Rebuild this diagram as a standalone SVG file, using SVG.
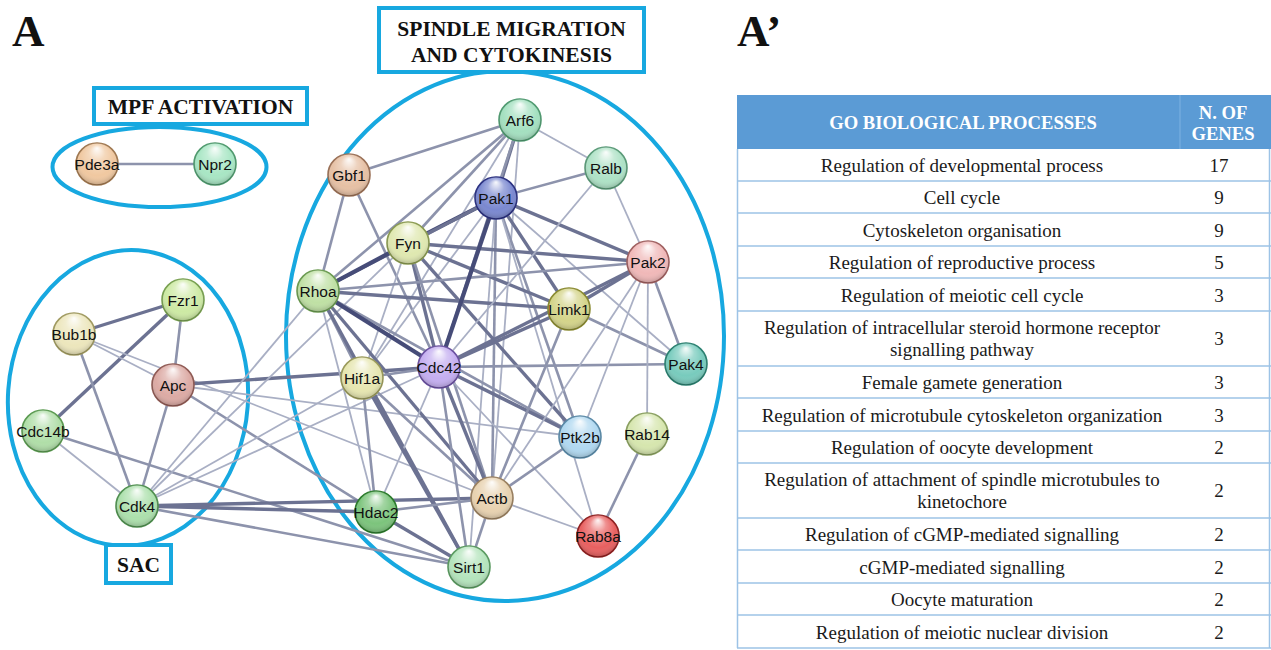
<svg xmlns="http://www.w3.org/2000/svg" width="1271" height="650" viewBox="0 0 1271 650">
<defs>
<radialGradient id="gloss" cx="50%" cy="45%" r="55%" fx="50%" fy="12%">
<stop offset="0" stop-color="#ffffff" stop-opacity="0.95"/>
<stop offset="0.35" stop-color="#ffffff" stop-opacity="0.3"/>
<stop offset="0.75" stop-color="#ffffff" stop-opacity="0"/>
<stop offset="1" stop-color="#000000" stop-opacity="0.2"/>
</radialGradient>
<style>
.bg{fill:#ffffff}
.grp{fill:none;stroke:#17a8e0;stroke-width:4}
.box{fill:#ffffff;stroke:#17a8e0;stroke-width:4}
.btitle{font-family:"Liberation Serif",serif;font-weight:bold;font-size:21.5px;fill:#111;text-anchor:middle}
.panel{font-family:"Liberation Serif",serif;font-weight:bold;font-size:45px;fill:#111}
.node circle.b{stroke-width:1.6}
.node circle.g{fill:url(#gloss)}
.node text{font-family:"Liberation Sans",Arial,sans-serif;font-size:15.5px;fill:#111;text-anchor:middle}
.t{stroke:#a9afc4;stroke-width:1.8}
.m{stroke:#8d93ac;stroke-width:2.6}
.k{stroke:#6c7292;stroke-width:3.4}
.d{stroke:#464c78;stroke-width:4.2}
.hdr{fill:#5b9bd5}
.htxt{font-family:"Liberation Serif",serif;font-weight:bold;font-size:18.6px;fill:#ffffff;text-anchor:middle}
.rtxt{font-family:"Liberation Serif",serif;font-size:19px;fill:#1a1a1a;text-anchor:middle}
.rl{stroke:#9dc3e6;stroke-width:1.5}
</style>
</defs>
<rect class="bg" x="0" y="0" width="1271" height="650"/>

<text class="panel" x="12" y="46">A</text>
<text class="panel" x="737" y="46">A’</text>

<g id="groups">
<ellipse class="grp" cx="159.5" cy="167" rx="107" ry="40"/>
<ellipse class="grp" cx="128" cy="398" rx="120" ry="148" transform="rotate(4 128 398)"/>
<ellipse class="grp" cx="505" cy="336" rx="219" ry="265"/>
</g>

<g id="connectors">
<line class="m" x1="97" y1="164" x2="215" y2="164"/>
<line class="k" x1="74" y1="334" x2="183" y2="300"/>
<line class="k" x1="43" y1="431" x2="183" y2="300"/>
<line class="m" x1="183" y1="300" x2="173" y2="385"/>
<line class="t" x1="74" y1="334" x2="173" y2="385"/>
<line class="t" x1="74" y1="334" x2="492" y2="498"/>
<line class="t" x1="173" y1="385" x2="580" y2="437"/>
<line class="m" x1="173" y1="385" x2="376" y2="512"/>
<line class="m" x1="173" y1="385" x2="137" y2="506"/>
<line class="m" x1="74" y1="334" x2="137" y2="506"/>
<line class="t" x1="43" y1="431" x2="137" y2="506"/>
<line class="m" x1="43" y1="431" x2="469" y2="567"/>
<line class="k" x1="173" y1="385" x2="439" y2="367"/>
<line class="t" x1="137" y1="506" x2="318" y2="291"/>
<line class="t" x1="137" y1="506" x2="408" y2="243"/>
<line class="t" x1="137" y1="506" x2="362" y2="378"/>
<line class="t" x1="137" y1="506" x2="439" y2="367"/>
<line class="k" x1="137" y1="506" x2="376" y2="512"/>
<line class="k" x1="137" y1="506" x2="492" y2="498"/>
<line class="m" x1="137" y1="506" x2="469" y2="567"/>
<line class="m" x1="520" y1="120" x2="349" y2="175"/>
<line class="k" x1="520" y1="120" x2="496" y2="198"/>
<line class="m" x1="520" y1="120" x2="318" y2="291"/>
<line class="m" x1="520" y1="120" x2="408" y2="243"/>
<line class="m" x1="520" y1="120" x2="439" y2="367"/>
<line class="t" x1="520" y1="120" x2="606" y2="168"/>
<line class="t" x1="520" y1="120" x2="492" y2="498"/>
<line class="t" x1="520" y1="120" x2="362" y2="378"/>
<line class="m" x1="349" y1="175" x2="318" y2="291"/>
<line class="m" x1="349" y1="175" x2="439" y2="367"/>
<line class="k" x1="496" y1="198" x2="648" y2="262"/>
<line class="k" x1="496" y1="198" x2="569" y2="309"/>
<line class="m" x1="496" y1="198" x2="606" y2="168"/>
<line class="m" x1="496" y1="198" x2="580" y2="437"/>
<line class="m" x1="496" y1="198" x2="492" y2="498"/>
<line class="t" x1="496" y1="198" x2="469" y2="567"/>
<line class="t" x1="496" y1="198" x2="362" y2="378"/>
<line class="t" x1="496" y1="198" x2="686" y2="364"/>
<line class="t" x1="496" y1="198" x2="598" y2="536"/>
<line class="k" x1="408" y1="243" x2="648" y2="262"/>
<line class="k" x1="408" y1="243" x2="569" y2="309"/>
<line class="k" x1="408" y1="243" x2="439" y2="367"/>
<line class="k" x1="408" y1="243" x2="580" y2="437"/>
<line class="m" x1="408" y1="243" x2="492" y2="498"/>
<line class="t" x1="408" y1="243" x2="362" y2="378"/>
<line class="m" x1="318" y1="291" x2="648" y2="262"/>
<line class="k" x1="318" y1="291" x2="569" y2="309"/>
<line class="k" x1="318" y1="291" x2="492" y2="498"/>
<line class="m" x1="318" y1="291" x2="580" y2="437"/>
<line class="m" x1="318" y1="291" x2="362" y2="378"/>
<line class="k" x1="318" y1="291" x2="469" y2="567"/>
<line class="t" x1="318" y1="291" x2="376" y2="512"/>
<line class="k" x1="439" y1="367" x2="569" y2="309"/>
<line class="k" x1="439" y1="367" x2="648" y2="262"/>
<line class="m" x1="439" y1="367" x2="686" y2="364"/>
<line class="k" x1="439" y1="367" x2="580" y2="437"/>
<line class="k" x1="439" y1="367" x2="492" y2="498"/>
<line class="m" x1="439" y1="367" x2="362" y2="378"/>
<line class="m" x1="439" y1="367" x2="469" y2="567"/>
<line class="t" x1="439" y1="367" x2="376" y2="512"/>
<line class="t" x1="439" y1="367" x2="598" y2="536"/>
<line class="k" x1="569" y1="309" x2="648" y2="262"/>
<line class="m" x1="569" y1="309" x2="686" y2="364"/>
<line class="m" x1="569" y1="309" x2="492" y2="498"/>
<line class="t" x1="648" y1="262" x2="606" y2="168"/>
<line class="m" x1="648" y1="262" x2="686" y2="364"/>
<line class="t" x1="648" y1="262" x2="647" y2="434"/>
<line class="t" x1="648" y1="262" x2="580" y2="437"/>
<line class="t" x1="648" y1="262" x2="492" y2="498"/>
<line class="t" x1="606" y1="168" x2="439" y2="367"/>
<line class="m" x1="362" y1="378" x2="376" y2="512"/>
<line class="k" x1="362" y1="378" x2="469" y2="567"/>
<line class="m" x1="362" y1="378" x2="492" y2="498"/>
<line class="m" x1="492" y1="498" x2="580" y2="437"/>
<line class="m" x1="492" y1="498" x2="469" y2="567"/>
<line class="m" x1="492" y1="498" x2="376" y2="512"/>
<line class="t" x1="492" y1="498" x2="598" y2="536"/>
<line class="k" x1="376" y1="512" x2="469" y2="567"/>
<line class="m" x1="647" y1="434" x2="598" y2="536"/>
<line class="d" x1="496" y1="198" x2="408" y2="243"/>
<line class="k" x1="496" y1="198" x2="318" y2="291"/>
<line class="d" x1="496" y1="198" x2="439" y2="367"/>
<line class="d" x1="408" y1="243" x2="318" y2="291"/>
<line class="d" x1="318" y1="291" x2="439" y2="367"/>
</g>

<g id="node-pde3a" class="node"><circle class="b" cx="97" cy="164" r="21" fill="#f0c8a0" stroke="#a07850"/><circle class="g" cx="97" cy="164" r="21"/><text x="97" y="169.5">Pde3a</text></g>
<g id="node-npr2" class="node"><circle class="b" cx="215" cy="164" r="21" fill="#a8e6c4" stroke="#4f9a6e"/><circle class="g" cx="215" cy="164" r="21"/><text x="215" y="169.5">Npr2</text></g>
<g id="node-arf6" class="node"><circle class="b" cx="520" cy="120" r="21" fill="#a4e0c0" stroke="#4f9a70"/><circle class="g" cx="520" cy="120" r="21"/><text x="520" y="125.5">Arf6</text></g>
<g id="node-gbf1" class="node"><circle class="b" cx="349" cy="175" r="21" fill="#e6c0a4" stroke="#9a7056"/><circle class="g" cx="349" cy="175" r="21"/><text x="349" y="180.5">Gbf1</text></g>
<g id="node-ralb" class="node"><circle class="b" cx="606" cy="168" r="21" fill="#aee2c6" stroke="#5a9a78"/><circle class="g" cx="606" cy="168" r="21"/><text x="606" y="173.5">Ralb</text></g>
<g id="node-pak1" class="node"><circle class="b" cx="496" cy="198" r="21" fill="#7a88d0" stroke="#2a3080"/><circle class="g" cx="496" cy="198" r="21"/><text x="496" y="203.5">Pak1</text></g>
<g id="node-fyn" class="node"><circle class="b" cx="408" cy="243" r="21" fill="#dfe8b0" stroke="#8a9a50"/><circle class="g" cx="408" cy="243" r="21"/><text x="408" y="248.5">Fyn</text></g>
<g id="node-pak2" class="node"><circle class="b" cx="648" cy="262" r="21" fill="#f0b8b8" stroke="#a06060"/><circle class="g" cx="648" cy="262" r="21"/><text x="648" y="267.5">Pak2</text></g>
<g id="node-rhoa" class="node"><circle class="b" cx="318" cy="291" r="21" fill="#bfe0a4" stroke="#6a9a50"/><circle class="g" cx="318" cy="291" r="21"/><text x="318" y="296.5">Rhoa</text></g>
<g id="node-limk1" class="node"><circle class="b" cx="569" cy="309" r="21" fill="#d4d48a" stroke="#8a8a30"/><circle class="g" cx="569" cy="309" r="21"/><text x="569" y="314.5">Limk1</text></g>
<g id="node-bub1b" class="node"><circle class="b" cx="74" cy="334" r="21" fill="#ece6bc" stroke="#a09a60"/><circle class="g" cx="74" cy="334" r="21"/><text x="74" y="339.5">Bub1b</text></g>
<g id="node-fzr1" class="node"><circle class="b" cx="183" cy="300" r="21" fill="#cdeaa4" stroke="#78a050"/><circle class="g" cx="183" cy="300" r="21"/><text x="183" y="305.5">Fzr1</text></g>
<g id="node-apc" class="node"><circle class="b" cx="173" cy="385" r="21" fill="#dcaaa4" stroke="#905a54"/><circle class="g" cx="173" cy="385" r="21"/><text x="173" y="390.5">Apc</text></g>
<g id="node-cdc42" class="node"><circle class="b" cx="439" cy="367" r="21" fill="#c4aef0" stroke="#6a50a0"/><circle class="g" cx="439" cy="367" r="21"/><text x="439" y="372.5">Cdc42</text></g>
<g id="node-hif1a" class="node"><circle class="b" cx="362" cy="378" r="21" fill="#e6e6b0" stroke="#9a9a5a"/><circle class="g" cx="362" cy="378" r="21"/><text x="362" y="383.5">Hif1a</text></g>
<g id="node-pak4" class="node"><circle class="b" cx="686" cy="364" r="21" fill="#78cbbd" stroke="#2a8070"/><circle class="g" cx="686" cy="364" r="21"/><text x="686" y="369.5">Pak4</text></g>
<g id="node-cdc14b" class="node"><circle class="b" cx="43" cy="431" r="21" fill="#b0dea8" stroke="#5a9a50"/><circle class="g" cx="43" cy="431" r="21"/><text x="43" y="436.5">Cdc14b</text></g>
<g id="node-ptk2b" class="node"><circle class="b" cx="580" cy="437" r="21" fill="#b0d8f0" stroke="#5a8aa8"/><circle class="g" cx="580" cy="437" r="21"/><text x="580" y="442.5">Ptk2b</text></g>
<g id="node-rab14" class="node"><circle class="b" cx="647" cy="434" r="21" fill="#d6e6ae" stroke="#8aa060"/><circle class="g" cx="647" cy="434" r="21"/><text x="647" y="439.5">Rab14</text></g>
<g id="node-cdk4" class="node"><circle class="b" cx="137" cy="506" r="21" fill="#ace0ac" stroke="#4f904f"/><circle class="g" cx="137" cy="506" r="21"/><text x="137" y="511.5">Cdk4</text></g>
<g id="node-hdac2" class="node"><circle class="b" cx="376" cy="512" r="21" fill="#7cc47c" stroke="#2a7a2a"/><circle class="g" cx="376" cy="512" r="21"/><text x="376" y="517.5">Hdac2</text></g>
<g id="node-actb" class="node"><circle class="b" cx="492" cy="498" r="21" fill="#e8d2b0" stroke="#9a8060"/><circle class="g" cx="492" cy="498" r="21"/><text x="492" y="503.5">Actb</text></g>
<g id="node-rab8a" class="node"><circle class="b" cx="598" cy="536" r="21" fill="#e86060" stroke="#902020"/><circle class="g" cx="598" cy="536" r="21"/><text x="598" y="541.5">Rab8a</text></g>
<g id="node-sirt1" class="node"><circle class="b" cx="469" cy="567" r="21" fill="#b4e4bc" stroke="#5a9a60"/><circle class="g" cx="469" cy="567" r="21"/><text x="469" y="572.5">Sirt1</text></g>

<g id="label-mpf"><rect class="box" x="94" y="88" width="213" height="36"/><text class="btitle" x="200.5" y="114">MPF ACTIVATION</text></g>
<g id="label-spindle"><rect class="box" x="379" y="8" width="265" height="64"/><text class="btitle" x="511.5" y="36">SPINDLE MIGRATION</text><text class="btitle" x="511.5" y="62">AND CYTOKINESIS</text></g>
<g id="label-sac"><rect class="box" x="106" y="545" width="65" height="38"/><text class="btitle" x="138.5" y="572">SAC</text></g>

<g id="table">
<rect class="hdr" x="737" y="95" width="534" height="54"/>
<line x1="1180" y1="95" x2="1180" y2="149" stroke="#7fb2e2" stroke-width="1"/>
<text class="htxt" x="963" y="129">GO BIOLOGICAL PROCESSES</text>
<text class="htxt" x="1223" y="119">N. OF</text>
<text class="htxt" x="1223" y="140">GENES</text>
<line class="rl" x1="737.5" y1="149" x2="737.5" y2="648"/>
<line class="rl" x1="1269.5" y1="149" x2="1269.5" y2="648"/>
<line class="rl" x1="737" y1="181" x2="1271" y2="181"/>
<line class="rl" x1="737" y1="213" x2="1271" y2="213"/>
<line class="rl" x1="737" y1="246" x2="1271" y2="246"/>
<line class="rl" x1="737" y1="278" x2="1271" y2="278"/>
<line class="rl" x1="737" y1="311" x2="1271" y2="311"/>
<line class="rl" x1="737" y1="366" x2="1271" y2="366"/>
<line class="rl" x1="737" y1="398" x2="1271" y2="398"/>
<line class="rl" x1="737" y1="431" x2="1271" y2="431"/>
<line class="rl" x1="737" y1="463" x2="1271" y2="463"/>
<line class="rl" x1="737" y1="518" x2="1271" y2="518"/>
<line class="rl" x1="737" y1="550" x2="1271" y2="550"/>
<line class="rl" x1="737" y1="583" x2="1271" y2="583"/>
<line class="rl" x1="737" y1="615" x2="1271" y2="615"/>
<line class="rl" x1="737" y1="648" x2="1271" y2="648"/>
<text class="rtxt" x="962" y="172">Regulation of developmental process</text><text class="rtxt" x="1219" y="172">17</text>
<text class="rtxt" x="962" y="204">Cell cycle</text><text class="rtxt" x="1219" y="204">9</text>
<text class="rtxt" x="962" y="236.5">Cytoskeleton organisation</text><text class="rtxt" x="1219" y="236.5">9</text>
<text class="rtxt" x="962" y="269">Regulation of reproductive process</text><text class="rtxt" x="1219" y="269">5</text>
<text class="rtxt" x="962" y="301.5">Regulation of meiotic cell cycle</text><text class="rtxt" x="1219" y="301.5">3</text>
<text class="rtxt" x="962" y="334">Regulation of intracellular steroid hormone receptor</text>
<text class="rtxt" x="962" y="356">signalling pathway</text><text class="rtxt" x="1219" y="345">3</text>
<text class="rtxt" x="962" y="389">Female gamete generation</text><text class="rtxt" x="1219" y="389">3</text>
<text class="rtxt" x="962" y="421.5">Regulation of microtubule cytoskeleton organization</text><text class="rtxt" x="1219" y="421.5">3</text>
<text class="rtxt" x="962" y="454">Regulation of oocyte development</text><text class="rtxt" x="1219" y="454">2</text>
<text class="rtxt" x="962" y="486">Regulation of attachment of spindle microtubules to</text>
<text class="rtxt" x="962" y="508">kinetochore</text><text class="rtxt" x="1219" y="497">2</text>
<text class="rtxt" x="962" y="541">Regulation of cGMP-mediated signalling</text><text class="rtxt" x="1219" y="541">2</text>
<text class="rtxt" x="962" y="573.5">cGMP-mediated signalling</text><text class="rtxt" x="1219" y="573.5">2</text>
<text class="rtxt" x="962" y="606">Oocyte maturation</text><text class="rtxt" x="1219" y="606">2</text>
<text class="rtxt" x="962" y="638.5">Regulation of meiotic nuclear division</text><text class="rtxt" x="1219" y="638.5">2</text>
</g>
</svg>
